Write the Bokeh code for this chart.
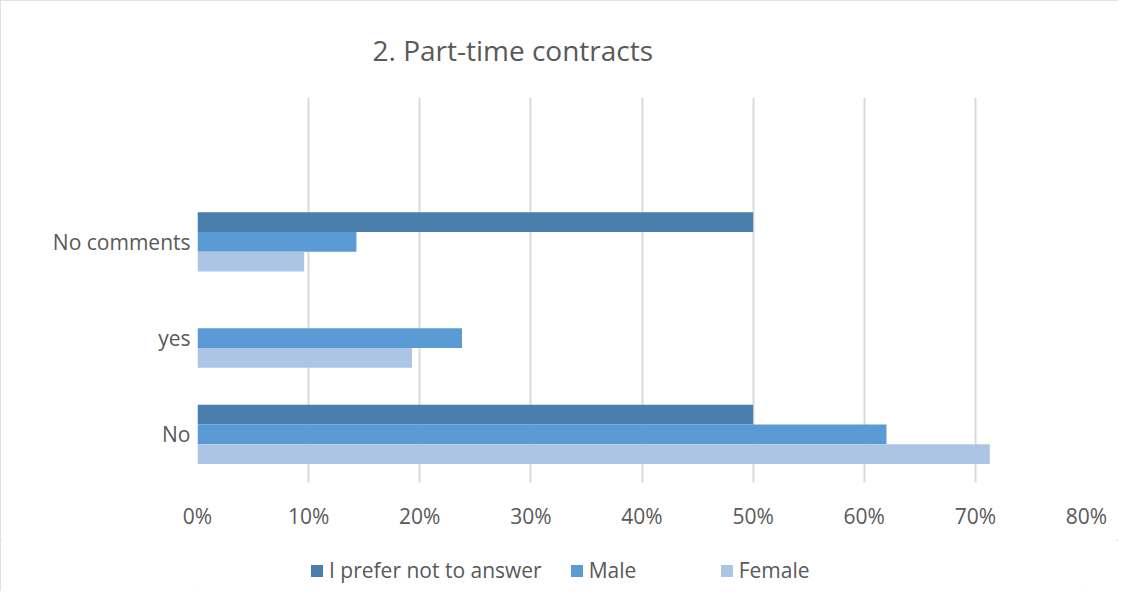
from bokeh.plotting import figure
from bokeh.models import (ColumnDataSource, FactorRange, Range1d, NumeralTickFormatter,
                          FixedTicker, Legend, LegendItem, Title)
from bokeh.layouts import column
from bokeh.transform import dodge
from bokeh.embed import file_html
from bokeh.resources import INLINE

# ---- data ----
categories = ["No", "yes", "No comments"]
prefer_not = [0.50, 0.0, 0.50]
male = [0.62, 0.238, 0.143]
female = [0.713, 0.193, 0.096]
x_ticks = [0, 0.1, 0.2, 0.3, 0.4, 0.5, 0.6, 0.7, 0.8]
series_names = ["I prefer not to answer", "Male", "Female"]
colors = ["#4A7EAD", "#5B9BD5", "#ADC5E4"]

TXT = "#595959"
FONT = "Open Sans"
W = 1118

src = ColumnDataSource(dict(cat=categories, prefer=prefer_not, male=male, female=female))
fields = ["prefer", "male", "female"]

p = figure(width=W, height=540, output_backend="svg", toolbar_location=None,
           x_range=Range1d(0, 0.8), y_range=FactorRange(factors=categories + [" "]),
           min_border_left=197, min_border_right=32, min_border_top=92, min_border_bottom=58,
           background_fill_color="white", border_fill_color="white")
p.outline_line_color = None

bh = 0.205
for f, off, c in zip(fields, [bh, 0, -bh], colors):
    p.hbar(y=dodge("cat", off, range=p.y_range), left=0, right=f, height=bh,
           source=src, fill_color=c, line_color=None)

# title
p.add_layout(Title(text="2. Part-time contracts", align="left", offset=175,
                   text_font=FONT, text_font_size="28px", text_font_style="normal",
                   text_color=TXT, standoff=57), "above")

# axes
xa = p.xaxis[0]
xa.ticker = FixedTicker(ticks=x_ticks)
xa.formatter = NumeralTickFormatter(format="0%")
xa.axis_line_color = None
xa.major_tick_line_color = None
xa.minor_tick_line_color = None
xa.major_tick_out = 0
xa.major_tick_in = 0
xa.major_label_standoff = 19
xa.major_label_text_font = FONT
xa.major_label_text_font_size = "21px"
xa.major_label_text_color = TXT

ya = p.yaxis[0]
ya.axis_line_color = None
ya.major_tick_line_color = None
ya.minor_tick_line_color = None
ya.major_tick_out = 0
ya.major_tick_in = 0
ya.major_label_standoff = 7
ya.major_label_text_font = FONT
ya.major_label_text_font_size = "21px"
ya.major_label_text_color = TXT

p.xgrid.grid_line_color = "#d9d9d9"
p.xgrid.grid_line_width = 2
p.xgrid.ticker = FixedTicker(ticks=x_ticks)
p.ygrid.grid_line_color = None

# ---- legend strip (zero-height bars, only used for the legend swatches) ----
lg = figure(width=W, height=51, output_backend="svg", toolbar_location=None,
            x_range=Range1d(0, 1), y_range=Range1d(0, 1),
            x_axis_location=None, y_axis_location=None, min_border=0,
            background_fill_color="white", border_fill_color="white")
lg.outline_line_color = None
lg.grid.visible = False
lr = [lg.hbar(y=f, left=0, right=f, height=0, source=src, fill_color=c, line_color=None)
      for f, c in zip(fields, colors)]

legend = Legend(items=[LegendItem(label=n, renderers=[r]) for n, r in zip(series_names, lr)],
                orientation="horizontal", location=(112, 7),
                glyph_width=15, glyph_height=15, label_standoff=5, spacing=27,
                label_width=103, padding=0, margin=0, border_line_color=None,
                background_fill_alpha=0,
                label_text_font=FONT, label_text_font_size="21px", label_text_color=TXT)
lg.add_layout(legend, "center")

layout = column(p, lg, spacing=0,
                styles={"outline": "2px solid #d9d9d9", "outline-offset": "-2px"})

open("out.html", "w").write(file_html(layout, INLINE))
